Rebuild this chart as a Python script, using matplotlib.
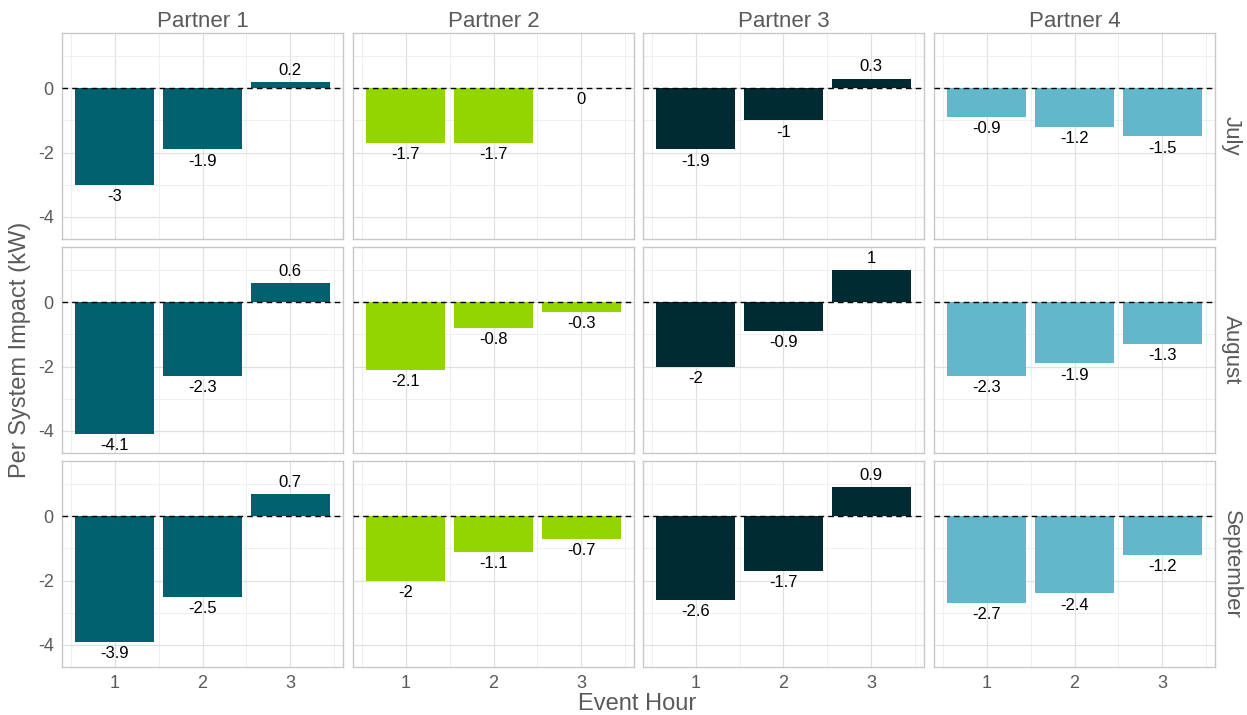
import matplotlib.pyplot as plt
import numpy as np

plt.rcParams['font.family'] = ['Liberation Sans', 'DejaVu Sans']
plt.rcParams['axes.unicode_minus'] = False

partners = ['Partner 1', 'Partner 2', 'Partner 3', 'Partner 4']
months = ['July', 'August', 'September']
hours = [1, 2, 3]

# impact per event hour, one list per month
partner1 = [[-3, -1.9, 0.2], [-4.1, -2.3, 0.6], [-3.9, -2.5, 0.7]]
partner2 = [[-1.7, -1.7, 0], [-2.1, -0.8, -0.3], [-2, -1.1, -0.7]]
partner3 = [[-1.9, -1, 0.3], [-2, -0.9, 1], [-2.6, -1.7, 0.9]]
partner4 = [[-0.9, -1.2, -1.5], [-2.3, -1.9, -1.3], [-2.7, -2.4, -1.2]]
impacts = [partner1, partner2, partner3, partner4]

colors = ['#00606e', '#93d500', '#002b33', '#62b7cb']

W, H = 1247, 715
fig = plt.figure(figsize=(W / 100, H / 100), dpi=100)

col_left = [62, 353, 643, 934]
row_top = [33, 247, 461]
pw, ph = 281, 206
grey_txt = '#5a5a5a'

for r, month in enumerate(months):
    for c, partner in enumerate(partners):
        ax = fig.add_axes([col_left[c] / W, 1 - (row_top[r] + ph) / H, pw / W, ph / H])
        vals = impacts[c][r]
        ax.set_xlim(0.4, 3.6)
        ax.set_ylim(-4.69, 1.72)
        ax.set_xticks(hours)
        ax.set_xticks([0.5, 1.5, 2.5, 3.5], minor=True)
        ax.set_yticks([-4, -2, 0])
        ax.set_yticks([-3, -1, 1], minor=True)
        ax.grid(which='major', color='#e0e0e0', linewidth=0.9)
        ax.grid(which='minor', color='#ededed', linewidth=0.6)
        ax.set_axisbelow(True)
        ax.tick_params(which='both', length=0, labelsize=13, labelcolor=grey_txt, pad=6)
        if r < 2:
            ax.tick_params(labelbottom=False)
        if c > 0:
            ax.tick_params(labelleft=False)
        for s in ax.spines.values():
            s.set_color('#c8c8c8')
            s.set_linewidth(1.0)

        ax.bar(hours, vals, width=0.9, color=colors[c], zorder=2)
        ax.axhline(0, color='black', linestyle=(0, (4, 3)), linewidth=1.0, zorder=3)
        for x, v in zip(hours, vals):
            if v > 0:
                ax.annotate(f'{v:g}', (x, v), xytext=(0, 3), textcoords='offset points',
                            ha='center', va='bottom', fontsize=12, color='black')
            else:
                ax.annotate(f'{v:g}', (x, v), xytext=(0, -3), textcoords='offset points',
                            ha='center', va='top', fontsize=12, color='black')

        if r == 0:
            ax.set_title(partner, fontsize=16, color=grey_txt, pad=4)
        if c == 3:
            ax.text(1.02, 0.5, month, transform=ax.transAxes, rotation=-90,
                    ha='left', va='center', fontsize=16, color=grey_txt)

fig.text(637 / W, 1 - 704 / H, 'Event Hour', ha='center', va='center', fontsize=17, color=grey_txt)
fig.text(20 / W, 1 - 350 / H, 'Per System Impact (kW)', ha='center', va='center',
         rotation=90, fontsize=17, color=grey_txt)

fig.savefig('out.png', dpi=100)
